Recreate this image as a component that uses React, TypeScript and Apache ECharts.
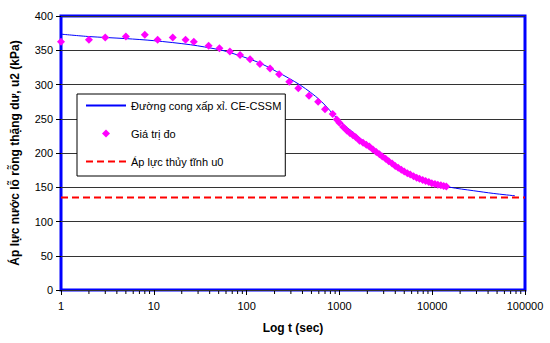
import React, { useEffect, useRef } from "react";
import * as echarts from "echarts";

const FONT = "'Liberation Sans', Arial, sans-serif";

// Fitted curve (CE-CSSM)
const curveT = [1, 2, 5, 10, 25, 50, 65, 130, 210, 380, 620, 1000, 1500, 2000, 3000, 5000, 10000, 15600, 27700, 45500, 78000];
const curveU = [373.5, 370, 367, 364, 358, 351, 347, 333, 319, 299, 277, 247, 227, 213, 195, 175.5, 157, 150, 145, 141, 137.5];

// Measured values
const measT = [
  1, 2, 3, 5, 8, 11, 16, 22, 27, 39, 51, 66, 85, 109, 139, 179, 224, 288, 361, 470, 590, 700, 846, 935,
  1000, 1100, 1200, 1300, 1400, 1500, 1650, 1800, 1950, 2100, 2300, 2500, 2700, 2900, 3150, 3400, 3700,
  4000, 4300, 4650, 5000, 5400, 5800, 6300, 6800, 7300, 7900, 8500, 9200, 9900, 10700, 11500, 12400, 13300, 14200,
];
const measU = [
  362.5, 365.5, 368.5, 370, 372.5, 365.5, 368.5, 365.5, 362.5, 356.5, 353, 348, 343, 337, 330, 323.5, 315, 304, 294.5, 283.5, 275, 264, 257, 249,
  244, 238, 233, 229, 226, 223, 218, 215, 212, 209.5, 205, 201.5, 198, 195, 191.5, 188, 184.5,
  181, 178.5, 175.5, 173, 170.5, 168.5, 166, 164, 162.5, 160.5, 159, 157.5, 156, 154.8, 153.8, 152.8, 151.8, 151,
];

// Hydrostatic pressure
const u0 = 135;
const xMin = 1;
const xMax = 100000;
const yMin = 0;
const yMax = 400;
const yStep = 50;

// Minor log ticks on the x axis
const minorTicks = [
  2, 3, 4, 5, 6, 7, 8, 9,
  20, 30, 40, 50, 60, 70, 80, 90,
  200, 300, 400, 500, 600, 700, 800, 900,
  2000, 3000, 4000, 5000, 6000, 7000, 8000, 9000,
  20000, 30000, 40000, 50000, 60000, 70000, 80000, 90000,
];

const names = ["Đường cong xấp xỉ. CE-CSSM", "Giá trị đo", "Áp lực thủy tĩnh u0"];

export default function App() {
  const ref = useRef<HTMLDivElement>(null);
  useEffect(() => {
    if (!ref.current) return;
    const chart = echarts.init(ref.current, undefined, { renderer: "svg" });
    chart.setOption({
      animation: false,
      backgroundColor: "#fff",
      textStyle: { fontFamily: FONT },
      grid: {
        left: 61,
        right: 25,
        top: 16,
        bottom: 53,
        show: true,
        borderColor: "#0000ff",
        borderWidth: 3,
        backgroundColor: "transparent",
      },
      legend: {
        orient: "vertical",
        left: 77,
        top: 94,
        padding: [6, 4, 9, 8],
        itemWidth: 40,
        itemHeight: 10,
        itemGap: 17,
        borderColor: "#000",
        borderWidth: 1,
        backgroundColor: "#fff",
        textStyle: { fontSize: 11, fontFamily: FONT, color: "#000" },
        data: [
          { name: names[0], itemStyle: { opacity: 0 } },
          { name: names[1], lineStyle: { opacity: 0 } },
          { name: names[2], itemStyle: { opacity: 0 } },
        ],
      },
      xAxis: {
        type: "log",
        logBase: 10,
        min: xMin,
        max: xMax,
        name: "Log t (sec)",
        nameLocation: "middle",
        nameGap: 32,
        nameTextStyle: { fontSize: 12, fontWeight: "bold", color: "#000", fontFamily: FONT },
        axisLine: { show: false },
        axisTick: { show: true, length: 5, inside: false, lineStyle: { color: "#000" } },
        axisLabel: {
          fontSize: 11,
          color: "#000",
          margin: 10,
          fontFamily: FONT,
          formatter: (v: number) => String(Math.round(v)),
        },
        splitLine: { show: false },
        minorTick: { show: false },
      },
      yAxis: {
        type: "value",
        min: yMin,
        max: yMax,
        interval: yStep,
        name: "Áp lực nước lỗ rỗng thặng dư, u2 (kPa)",
        nameLocation: "middle",
        nameGap: 40,
        nameTextStyle: { fontSize: 12, fontWeight: "bold", color: "#000", fontFamily: FONT },
        axisLine: { show: false },
        axisTick: { show: true, length: 5, inside: false, lineStyle: { color: "#000" } },
        axisLabel: { fontSize: 11, color: "#000", margin: 8, fontFamily: FONT },
        splitLine: { show: true, lineStyle: { color: "#333", width: 1 } },
      },
      series: [
        {
          name: names[0],
          type: "line",
          data: curveT.map((t, i) => [t, curveU[i]]),
          smooth: 0.3,
          symbol: "none",
          lineStyle: { color: "#0000ff", width: 1 },
          itemStyle: { color: "#0000ff" },
          z: 2,
        },
        {
          name: names[1],
          type: "line",
          data: measT.map((t, i) => [t, measU[i]]),
          symbol: "diamond",
          symbolSize: 8,
          showSymbol: true,
          showAllSymbol: true,
          lineStyle: { opacity: 0, width: 0 },
          itemStyle: { color: "#ff00ff", borderWidth: 0 },
          z: 3,
        },
        {
          name: names[2],
          type: "line",
          data: [
            [xMin, u0],
            [xMax, u0],
          ],
          symbol: "none",
          lineStyle: { color: "#ff0000", width: 2, type: [7, 4] },
          itemStyle: { color: "#ff0000" },
          z: 4,
        },
        {
          name: "minorTicks",
          type: "custom",
          silent: true,
          clip: false,
          data: minorTicks.map((v) => [v, yMin]),
          encode: { x: 0, y: 1 },
          renderItem: (_params: any, api: any) => {
            const p = api.coord([api.value(0), api.value(1)]);
            return {
              type: "line",
              shape: { x1: p[0], y1: p[1] + 1, x2: p[0], y2: p[1] + 4 },
              style: { stroke: "#000", lineWidth: 1 },
            };
          },
          z: 1,
        },
      ],
    });
    return () => chart.dispose();
  }, []);
  return (
    <div
      ref={ref}
      style={{ position: "fixed", left: 0, top: 0, width: 550, height: 343, background: "#fff" }}
    />
  );
}
